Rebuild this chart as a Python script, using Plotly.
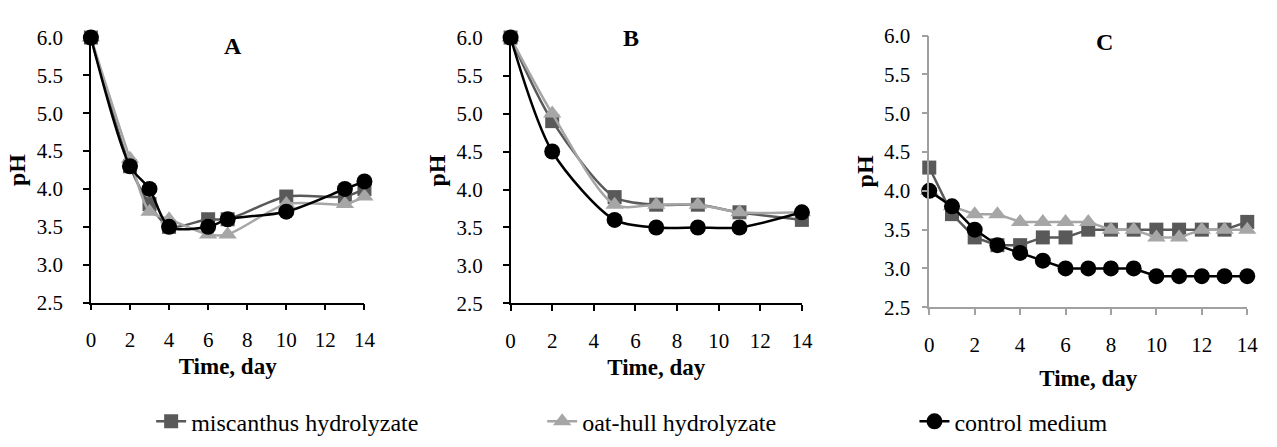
import plotly.graph_objects as go

W, H = 1277, 447

# ---- data ----
days_A = [0, 2, 3, 4, 6, 7, 10, 13, 14]
misc_A = [6.0, 4.3, 3.8, 3.5, 3.6, 3.6, 3.9, 3.9, 4.0]
oat_A = [6.0, 4.4, 3.7, 3.6, 3.4, 3.4, 3.8, 3.8, 3.9]
ctrl_A = [6.0, 4.3, 4.0, 3.5, 3.5, 3.6, 3.7, 4.0, 4.1]

days_B = [0, 2, 5, 7, 9, 11, 14]
misc_B = [6.0, 4.9, 3.9, 3.8, 3.8, 3.7, 3.6]
oat_B = [6.0, 5.0, 3.8, 3.8, 3.8, 3.7, 3.7]
ctrl_B = [6.0, 4.5, 3.6, 3.5, 3.5, 3.5, 3.7]

days_C = list(range(0, 15))
misc_C = [4.3, 3.7, 3.4, 3.3, 3.3, 3.4, 3.4, 3.5, 3.5, 3.5, 3.5, 3.5, 3.5, 3.5, 3.6]
oat_C = [4.0, 3.8, 3.7, 3.7, 3.6, 3.6, 3.6, 3.6, 3.5, 3.5, 3.4, 3.4, 3.5, 3.5, 3.5]
ctrl_C = [4.0, 3.8, 3.5, 3.3, 3.2, 3.1, 3.0, 3.0, 3.0, 3.0, 2.9, 2.9, 2.9, 2.9, 2.9]

series_names = ["miscanthus hydrolyzate", "oat-hull hydrolyzate", "control medium"]
panel_labels = ["A", "B", "C"]
x_ticks = [0, 2, 4, 6, 8, 10, 12, 14]
y_ticks = [2.5, 3.0, 3.5, 4.0, 4.5, 5.0, 5.5, 6.0]

FONT = "Liberation Serif"
colors = ["#595959", "#a6a6a6", "#000000"]
symbols = ["square", "triangle-up", "circle"]
msize = [14, 16, 16]
lwidth = [2.5, 2.5, 2.5]

# pixel boxes of plot areas: (x0, x1, ytop, ybottom)
boxes = [(87, 364, 27, 307), (512, 807, 27, 308), (936, 1258, 25, 312)]

fig = go.Figure()

panels = [
    (days_A, [misc_A, oat_A, ctrl_A], "spline"),
    (days_B, [misc_B, oat_B, ctrl_B], "spline"),
    (days_C, [misc_C, oat_C, ctrl_C], "linear"),
]

legend_ids = ["legend", "legend2", "legend3"]
for p, (days, ys, shape) in enumerate(panels):
    xa = "x" if p == 0 else f"x{p+1}"
    ya = "y" if p == 0 else f"y{p+1}"
    for s in range(3):
        fig.add_trace(go.Scatter(
            x=days, y=ys[s], mode="lines+markers", name=series_names[s],
            line=dict(color=colors[s], width=lwidth[s], shape=shape, smoothing=0.8),
            marker=dict(symbol=symbols[s], size=msize[s], color=colors[s]),
            xaxis=xa, yaxis=ya, cliponaxis=False,
            showlegend=(p == 0), legend=legend_ids[s],
        ))

layout = dict(
    width=W, height=H, margin=dict(l=0, r=0, t=0, b=0),
    plot_bgcolor="white", paper_bgcolor="white",
    font=dict(family=FONT, size=21, color="black"),
)

for p, (x0, x1, yt, yb) in enumerate(boxes):
    axcol = "#000000" if p < 2 else "#a0a0a0"
    xkey = "xaxis" if p == 0 else f"xaxis{p+1}"
    ykey = "yaxis" if p == 0 else f"yaxis{p+1}"
    xa = "x" if p == 0 else f"x{p+1}"
    ya = "y" if p == 0 else f"y{p+1}"
    layout[xkey] = dict(
        domain=[x0 / W, x1 / W], anchor=ya, range=[0, 14],
        tickvals=x_ticks, ticks="outside", ticklen=6, tickcolor=axcol, tickwidth=1.5,
        ticklabelstandoff=12,
        showline=True, linecolor=axcol, linewidth=1.5, showgrid=False, zeroline=False,
        tickfont=dict(family=FONT, size=21),
        title=dict(text="<b>Time, day</b>", font=dict(family=FONT, size=23),
                   standoff=6 if p < 2 else 14),
    )
    layout[ykey] = dict(
        domain=[1 - yb / H, 1 - yt / H], anchor=xa, range=[2.5, 6.0],
        tickvals=y_ticks, tickformat=".1f",
        ticks="outside", ticklen=6, tickcolor=axcol, tickwidth=1.5,
        ticklabelstandoff=16 if p < 2 else 7,
        showline=True, linecolor=axcol, linewidth=1.5, showgrid=False, zeroline=False,
        tickfont=dict(family=FONT, size=21),
        title=dict(text="<b>pH</b>", font=dict(family=FONT, size=24), standoff=4),
    )

# panel letters
letter_pos = [(231, 36), (634, 28), (1113, 32)]
layout["annotations"] = [
    dict(text=f"<b>{panel_labels[i]}</b>", x=px / W, y=1 - py / H, xref="paper", yref="paper",
         showarrow=False, font=dict(family=FONT, size=24), xanchor="center", yanchor="middle")
    for i, (px, py) in enumerate(letter_pos)
]

leg_x = [148, 544, 921]
for i, lid in enumerate(legend_ids):
    layout[lid] = dict(x=leg_x[i] / W, y=1 - 433 / H, xanchor="left", yanchor="middle",
                       orientation="h", font=dict(family=FONT, size=24),
                       bgcolor="rgba(0,0,0,0)")

fig.update_layout(**layout)
fig.write_html(
    "out.html",
    config={"displayModeBar": False},
    post_script="document.body.style.margin='0';document.body.style.overflow='hidden';",
)
